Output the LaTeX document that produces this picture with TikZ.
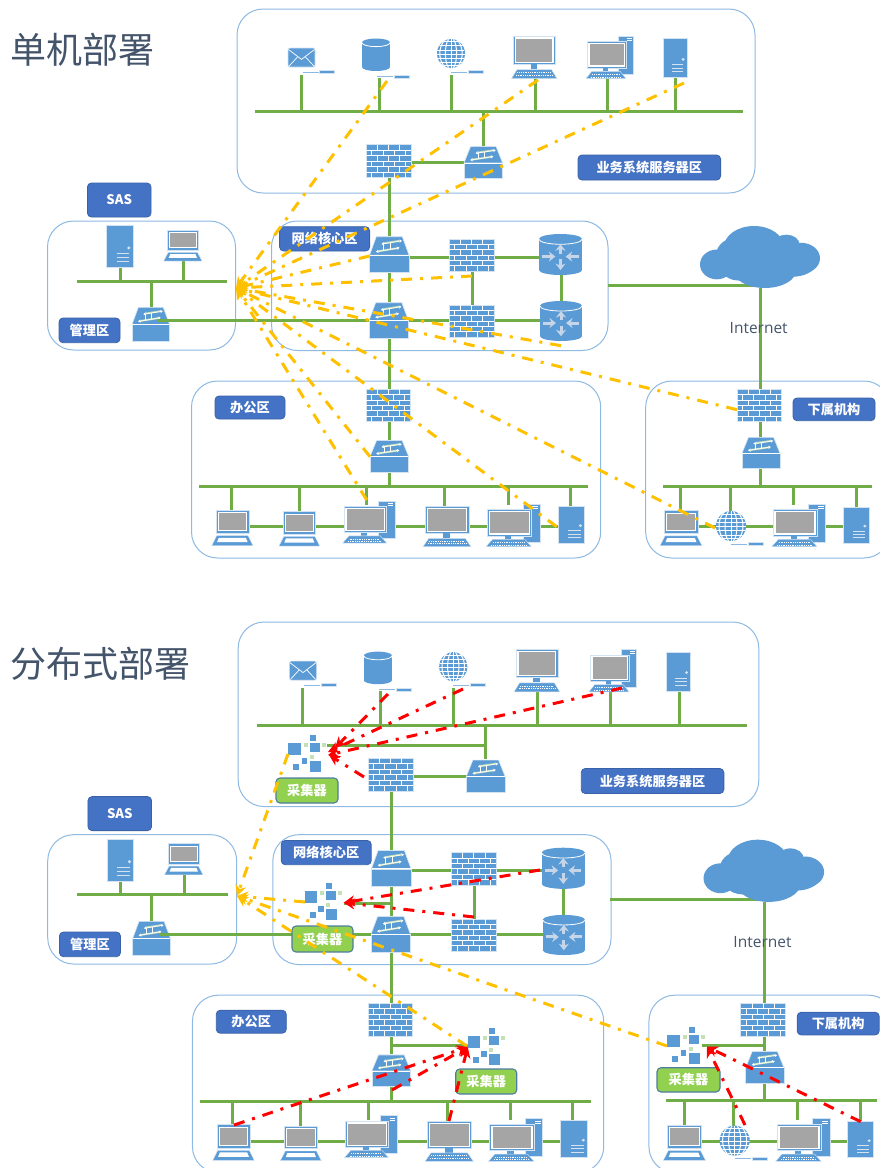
\documentclass[tikz,border=0pt]{standalone}
\usepackage{fontspec}
\setmainfont{Noto Sans CJK SC}
\newfontfamily\latinf{Open Sans}
\usetikzlibrary{arrows.meta}
\definecolor{icblue}{HTML}{5B9BD5}
\definecolor{iedge}{HTML}{D3E3F2}
\definecolor{linkg}{HTML}{70AD47}
\definecolor{panelb}{HTML}{8DB9E2}
\definecolor{labb}{HTML}{4472C4}
\definecolor{labe}{HTML}{3A62A8}
\definecolor{labg}{HTML}{92D050}
\definecolor{labge}{HTML}{4E7D9E}
\definecolor{titlec}{HTML}{44546A}
\definecolor{orangef}{HTML}{FFC000}
\definecolor{grey1}{HTML}{A5A5A5}
\definecolor{paleg}{HTML}{C5E0B4}
\definecolor{palear}{HTML}{C6D6E8}
\pgfdeclarelayer{links}
\pgfsetlayers{links,main}
\tikzset{
 iconbox/.style={rectangle,inner sep=0pt,outer sep=0pt,draw=none},
 ic/.style={fill=icblue,draw=iedge,line width=.6pt},
 link/.style={draw=linkg,line width=3pt},
 panel/.style={draw=panelb,line width=1pt,rounded corners=26pt},
 brick/.style={draw=white,line width=.75pt},
 lab/.style={rectangle,rounded corners=4pt,fill=labb,draw=labe,line width=.8pt,text=white,inner sep=0pt,font=\fontsize{13.2}{15}\selectfont\bfseries},
 labgreen/.style={lab,fill=labg,draw=labge,line width=1.1pt},
 flowo/.style={draw=orangef,line width=3pt,dash pattern=on 11pt off 8pt on 3pt off 8pt,-{Stealth[length=11pt,width=11pt]}},
 flowr/.style={draw=red,line width=3pt,dash pattern=on 11pt off 8pt on 3pt off 8pt,-{Stealth[length=11pt,width=11pt]}},
 title/.style={anchor=west,inner sep=0pt,text=titlec,font=\fontsize{36}{40}\selectfont},
 inet/.style={inner sep=0pt,text=titlec,font=\latinf\fontsize{15.5}{17}\selectfont},
 swarrow/.style={draw=white,line width=.7pt,{Stealth[length=2.6pt,width=3.2pt]}-{Stealth[length=2.6pt,width=3.2pt]}},
 swglow/.style={draw=paleg,line width=1.8pt},
}
\newcommand{\mkicon}[6]{%
 \pgfmathsetmacro\myW{#5-(#3)}\pgfmathsetmacro\myH{#6-(#4)}%
 \pgfmathsetmacro\myCx{(#3+#5)/2}\pgfmathsetmacro\myCy{(#4+#6)/2}%
 \node[iconbox,minimum width=\myW pt,minimum height=\myH pt] (#2) at (\myCx,\myCy) {};
 \begin{scope}[shift={(#3,#4)},x=\myW pt,y=-\myH pt]#1\end{scope}}
\newcommand{\shapefw}{%
 \path[ic] (0,0) rectangle (1,1);
 \foreach \r in {1,...,5}{\draw[brick] (0,\r/6) -- (1,\r/6);}
 \foreach \r in {0,2,4}{\foreach \c in {.25,.5,.75}{\draw[brick] (\c,\r/6) -- (\c,\r/6+1/6);}}
 \foreach \r in {1,3,5}{\foreach \c in {.125,.375,.625,.875}{\draw[brick] (\c,\r/6) -- (\c,\r/6+1/6);}}}
\newcommand{\shapesw}{%
 \path[ic] (0,.52) -- (.17,.02) -- (.83,.02) -- (1,.52) -- cycle;
 \path[ic] (0,.52) rectangle (1,1);
 \draw[white,line width=.9pt] (.01,.52) -- (.99,.52);
 \draw[swglow] (.36,.2) -- (.76,.13);
 \draw[swglow] (.2,.42) -- (.72,.33);
 \draw[swarrow] (.3,.22) -- (.82,.13);
 \draw[swarrow] (.16,.43) -- (.76,.32);
 \draw[draw=white,line width=.7pt] (.52,.18) -- (.52,.36);
 \draw[draw=white,line width=.7pt] (.36,.2) -- (.36,.4);}
\newcommand{\cylbody}{%
 \fill[icblue] (0,.12) rectangle (1,.88);
 \fill[icblue] (.5,.12) ellipse [x radius=.5,y radius=.12];
 \fill[icblue] (.5,.88) ellipse [x radius=.5,y radius=.12];
 \draw[white,line width=.8pt] (0,.13) arc [start angle=180,end angle=0,x radius=.5,y radius=.12];}
\newcommand{\shaperouter}{%
 \cylbody
 \draw[palear,line width=3pt,-{Stealth[length=6.5pt,width=10pt]}] (.5,.48) -- (.5,.25);
 \draw[palear,line width=3pt,-{Stealth[length=6.5pt,width=10pt]}] (.5,.62) -- (.5,.88);
 \draw[palear,line width=3pt,-{Stealth[length=6.5pt,width=10pt]}] (.08,.55) -- (.38,.55);
 \draw[palear,line width=3pt,-{Stealth[length=6.5pt,width=10pt]}] (.92,.55) -- (.62,.55);}
\newcommand{\shapemail}{%
 \path[ic,rounded corners=2pt] (0,0) rectangle (1,1);
 \draw[white,line width=.7pt] (.02,.08) -- (.5,.6) -- (.98,.08);
 \draw[white,line width=.7pt] (.04,.95) -- (.36,.46);
 \draw[white,line width=.7pt] (.96,.95) -- (.64,.46);}
\newcommand{\shapeglobe}{%
 \fill[icblue] (.5,.5) ellipse [x radius=.5,y radius=.5];
 \begin{scope}
 \clip (.5,.5) ellipse [x radius=.5,y radius=.5];
 \foreach \v in {.1,.24,.38,.52,.66,.8,.92}{\draw[white,line width=1pt] (0,\v) -- (1,\v);}
 \draw[white,line width=1pt] (.5,0) -- (.5,1);
 \draw[white,line width=1pt] (.5,.5) ellipse [x radius=.2,y radius=.55];
 \draw[white,line width=1pt] (.5,.5) ellipse [x radius=.4,y radius=.55];
 \end{scope}}
\newcommand{\shapeserver}{%
 \path[ic] (0,0) rectangle (1,1);
 \fill[iedge] (.84,.53) ellipse [x radius=.065,y radius=.04];
 \foreach \v in {.67,.76,.85}{\draw[iedge,line width=.9pt] (.38,\v) -- (.85,\v);}}
\newcommand{\kbd}[4]{% top y, left, right, (unit coords)
 \path[fill=icblue,draw=iedge,line width=.4pt] (#2+.12,#1) -- (#3-.12,#1) -- (#3,1) -- (#2,1) -- cycle;
 \draw[white,line width=.6pt,dash pattern=on 1pt off .8pt] (#2+.13,#1+.07) -- (#3-.13,#1+.07);
 \draw[white,line width=.6pt,dash pattern=on 1pt off .8pt] (#2+.1,#1+.13) -- (#3-.1,#1+.13);
 #4}
\newcommand{\shapemon}{%
 \path[ic] (.04,0) rectangle (.96,.667);
 \fill[white] (.075,.035) rectangle (.925,.63);
 \fill[grey1] (.1,.06) rectangle (.9,.605);
 \fill[icblue] (.42,.667) rectangle (.57,.78);
 \kbd{.79}{0}{1}{}}
\newcommand{\shapedesk}{%
 \path[ic] (.685,0) rectangle (1,.89);
 \draw[white,line width=.7pt] (.86,.06) -- (.96,.06);
 \draw[white,line width=.7pt] (.86,.11) -- (.96,.11);
 \path[ic] (.025,.134) rectangle (.84,.75);
 \fill[white] (.05,.165) rectangle (.815,.72);
 \fill[grey1] (.075,.195) rectangle (.79,.69);
 \fill[icblue] (.35,.75) rectangle (.47,.83);
 \kbd{.83}{0}{.84}{}}
\newcommand{\shapelap}{%
 \path[ic] (.104,0) rectangle (.904,.654);
 \fill[white] (.145,.06) rectangle (.86,.59);
 \fill[grey1] (.17,.09) rectangle (.835,.56);
 \path[fill=icblue,draw=iedge,line width=.4pt] (.12,.72) -- (.88,.72) -- (1,1) -- (0,1) -- cycle;
 \fill[white] (.17,.78) -- (.83,.78) -- (.87,.9) -- (.13,.9) -- cycle;}
\newcommand{\shapecol}{%
 \fill[icblue] (0,.21) rectangle (.33,.55);
 \fill[icblue] (.58,0) rectangle (.73,.155);
 \fill[icblue] (.57,.21) rectangle (.84,.47);
 \fill[icblue] (.36,.61) rectangle (.51,.77);
 \fill[icblue] (.14,.79) rectangle (.3,.95);
 \fill[icblue] (.57,.7) rectangle (.86,1);
 \fill[paleg] (.41,.21) rectangle (.52,.32);
 \fill[paleg] (.89,.21) rectangle (1,.32);
 \fill[paleg] (.57,.53) rectangle (.68,.64);}
\newcommand{\shapecloud}{%
 \fill[icblue] (.14,.62) ellipse [x radius=.14,y radius=.24];
 \fill[icblue] (.28,.5) ellipse [x radius=.15,y radius=.3];
 \fill[icblue] (.45,.34) ellipse [x radius=.25,y radius=.34];
 \fill[icblue] (.72,.3) ellipse [x radius=.11,y radius=.16];
 \fill[icblue] (.84,.52) ellipse [x radius=.16,y radius=.25];
 \fill[icblue] (.54,.72) ellipse [x radius=.26,y radius=.28];
 \fill[icblue] (.33,.72) ellipse [x radius=.14,y radius=.16];
 \fill[icblue] (.62,.52) ellipse [x radius=.3,y radius=.3];
 \fill[icblue] (.76,.62) ellipse [x radius=.2,y radius=.2];}
\newcommand{\cable}[2]{%
 \draw[icblue!70,line width=.7pt] (#1,#2) -- ++(16,0);
 \path[fill=icblue,draw=iedge,line width=.5pt] (#1+17,#2-1.5) rectangle (#1+32,#2+1.5);}
\newcommand{\panelbox}[5]{\mkicon{\draw[panel] (0,0) rectangle (1,1);}{#1}{#2}{#3}{#4}{#5}}
\newcommand{\hbus}[4]{%
 \coordinate (#1) at (#2,#4);\coordinate (#1R) at (#3,#4);
 \draw[link] (#1) -- (#1R);}
\newcommand{\drop}[4]{% name, x, y of free end, bus
 \coordinate (#1) at (#2,#3);\draw[link] (#1) -- (#1 |- #4);}
\newcommand{\lab}[7][lab]{% style,name,text,x0,y0,x1,y1
 \pgfmathsetmacro\myW{#6-(#4)}\pgfmathsetmacro\myH{#7-(#5)}%
 \pgfmathsetmacro\myCx{(#4+#6)/2}\pgfmathsetmacro\myCy{(#5+#7)/2}%
 \node[#1,minimum width=\myW pt,minimum height=\myH pt] (#2) at (\myCx,\myCy) {#3};}
\newcommand{\hlink}[3]{\draw[link] (#1 |- #3) -- (#2 |- #3);}
\newcommand{\flow}[4]{\coordinate (src) at (#3,#4);\draw[#1] (src) -- (#2);}
\newcommand{\network}[1]{%
 \def\P{#1}%
 \begin{pgfonlayer}{links}
 \panelbox{\P panA}{237}{9}{755}{193}
 \panelbox{\P panB}{47.5}{221}{235.5}{350}
 \panelbox{\P panC}{271.5}{221}{608}{350.5}
 \panelbox{\P panD}{191.5}{381}{600.7}{558}
 \panelbox{\P panE}{645.7}{381}{890}{558}
 \end{pgfonlayer}
 % business zone
 \mkicon{\shapemail}{\P mail}{288}{48}{315}{67}
 \cable{302.6}{72}
 \mkicon{\cylbody}{\P db}{362}{38.5}{390}{71}
 \cable{377}{76.3}
 \mkicon{\shapeglobe}{\P glob}{437}{39}{465}{68}
 \cable{451}{72}
 \mkicon{\shapemon}{\P mon}{511.5}{36}{557}{78.6}
 \mkicon{\shapedesk}{\P desk}{586}{36}{633.5}{78.6}
 \mkicon{\shapeserver}{\P srv}{663}{38.7}{687}{77.7}
 \mkicon{\shapefw}{\P fw}{366}{144.7}{411}{177.7}
 \mkicon{\shapesw}{\P sw}{464}{146}{502.6}{178.7}
 % management zone
 \mkicon{\shapeserver}{\P msrv}{106.7}{225.7}{133}{267.7}
 \mkicon{\shapelap}{\P mlap}{163.7}{230}{202}{261}
 \mkicon{\shapesw}{\P msw}{132}{306.7}{169.6}{341}
 % core zone
 \mkicon{\shapesw}{\P csa}{369.6}{236}{409}{272.7}
 \mkicon{\shapesw}{\P csb}{369}{302}{408.5}{338}
 \mkicon{\shapefw}{\P cfa}{449}{239}{494}{271}
 \mkicon{\shapefw}{\P cfb}{449}{305}{494}{337}
 \mkicon{\shaperouter}{\P cra}{539}{234}{582}{275}
 \mkicon{\shaperouter}{\P crb}{540}{301}{582}{341}
 \mkicon{\shapecloud}{\P cloud}{700}{226}{820}{288}
 % office zone
 \mkicon{\shapefw}{\P ofw}{366}{389}{410}{421.7}
 \mkicon{\shapesw}{\P osw}{370}{440}{408.7}{472}
 \mkicon{\shapelap}{\P ola}{211.7}{510}{253}{545.7}
 \mkicon{\shapelap}{\P olb}{279}{511.7}{319.7}{546}
 \mkicon{\shapedesk}{\P oda}{342.7}{501}{395}{543}
 \mkicon{\shapemon}{\P omo}{423}{506.7}{471}{546.7}
 \mkicon{\shapedesk}{\P odb}{486}{504}{540}{546.7}
 \mkicon{\shapeserver}{\P osr}{558}{506}{584.7}{543}
 % branch zone
 \mkicon{\shapefw}{\P bfw}{737}{389}{781.7}{421.7}
 \mkicon{\shapesw}{\P bsw}{742}{436.7}{780}{468.7}
 \mkicon{\shapelap}{\P bla}{660}{510.7}{702}{545.7}
 \mkicon{\shapeglobe}{\P bgl}{716}{511}{746}{541}
 \cable{731}{544}
 \mkicon{\shapedesk}{\P bde}{771.7}{504}{825.7}{546.7}
 \mkicon{\shapeserver}{\P bsr}{843}{507}{869}{543}
 \begin{pgfonlayer}{links}
 \hbus{\P busa}{255.4}{743}{111.7}
 \drop{\P da}{301}{75}{\P busa}
 \drop{\P db2}{379}{77.7}{\P busa}
 \drop{\P dc}{451}{74.7}{\P busa}
 \drop{\P dd}{535}{78}{\P busa}
 \drop{\P de}{607}{78}{\P busa}
 \drop{\P df}{675.7}{76}{\P busa}
 \coordinate (\P cola) at (483.3,146);
 \draw[link] (\P cola |- \P busa) -- (\P cola);
 \coordinate (\P rowa) at (0,162.7);
 \hlink{\P fw}{\P sw}{\P rowa}
 \coordinate (\P colb) at (389,0);
 \draw[link] (\P colb |- \P fw.south) -- (\P colb |- \P csa.north);
 \draw[link] (\P colb |- \P csa.south) -- (\P colb |- \P csb.north);
 \draw[link] (\P colb |- \P csb.south) -- (\P colb |- \P ofw.north);
 \draw[link] (\P colb |- \P ofw.south) -- (\P colb |- \P osw.north);
 \hbus{\P busb}{77}{227}{281}
 \drop{\P dg}{120}{265}{\P busb}
 \drop{\P dh}{183.3}{261}{\P busb}
 \coordinate (\P dk) at (151,307);
 \draw[link] (\P dk |- \P busb) -- (\P dk);
 \coordinate (\P rowb) at (0,257);
 \coordinate (\P rowc) at (0,320);
 \hlink{\P csa}{\P cfa}{\P rowb}
 \hlink{\P cfa}{\P cra}{\P rowb}
 \hlink{\P csb}{\P cfb}{\P rowc}
 \hlink{\P cfb}{\P crb}{\P rowc}
 \coordinate (\P colc) at (472,0);
 \coordinate (\P cold) at (561,0);
 \draw[link] (\P colc |- \P cfa.south) -- (\P colc |- \P cfb.north);
 \draw[link] (\P cold |- \P cra.south) -- (\P cold |- \P crb.north);
 \coordinate (\P rowd) at (0,285.3);
 \draw[link] (\P panC.east |- \P rowd) -- (\P cloud.center |- \P rowd);
 \coordinate (\P cole) at (760.7,0);
 \draw[link] (\P cole |- \P cloud.south) -- (\P cole |- \P bfw.north);
 \draw[link] (\P cole |- \P bfw.south) -- (\P cole |- \P bsw.north);
 \hbus{\P busc}{199}{587.7}{486.7}
 \drop{\P dl}{231}{511}{\P busc}
 \drop{\P dm}{299}{512}{\P busc}
 \drop{\P dn}{366.7}{505}{\P busc}
 \drop{\P do}{444.7}{507}{\P busc}
 \drop{\P dp}{508}{505}{\P busc}
 \drop{\P dq}{570}{507}{\P busc}
 \draw[link] (\P colb |- \P osw.south) -- (\P colb |- \P busc);
 \coordinate (\P rowe) at (0,526.7);
 \draw[link] (\P ola |- \P rowe) -- (\P osr |- \P rowe);
 \hbus{\P busd}{663}{872}{486}
 \drop{\P dr}{680.7}{511}{\P busd}
 \drop{\P ds}{730}{511}{\P busd}
 \drop{\P dt}{793}{505}{\P busd}
 \drop{\P du}{856}{507}{\P busd}
 \draw[link] (\P cole |- \P bsw.south) -- (\P cole |- \P busd);
 \draw[link] (\P bla |- \P rowe) -- (\P bsr |- \P rowe);
 \end{pgfonlayer}
 \coordinate (\P mswp) at (158,320);
 \draw[link] (\P mswp) -- (\P mswp -| \P csb.west);
 \node[inet] (\P inet) at (758.7,327.7) {Internet};
 \lab{\P lsas}{SAS}{87.4}{183}{151}{217}
 \lab{\P lcore}{网络核心区}{279.6}{226.7}{369.6}{251}
 \lab{\P lmgmt}{管理区}{59}{318}{120}{342.7}
 \lab{\P loff}{办公区}{215}{396}{285}{419}
 \lab{\P lbr}{下属机构}{793}{398}{875}{420.7}
 \lab{\P lbiz}{业务系统服务器区}{578}{155}{720.6}{180}
}
\begin{document}
\begin{tikzpicture}[x=1pt,y=-1pt]
 \useasboundingbox (0,0) rectangle (880,1168);
 \clip (0,0) rectangle (880,1168);
 \node[title] (t1) at (10,50) {单机部署};
 \node[title] (t2) at (10,664) {分布式部署};
 \network{A}
 \begin{scope}[shift={(0,613)},xscale=1.005,yscale=1.003]
  \network{B}
 \end{scope}
 % first diagram: every probe reports to SAS
 \coordinate (tipa) at (236,288);
 \flow{flowo}{tipa}{387}{81}
 \flow{flowo}{tipa}{538}{80}
 \flow{flowo}{tipa}{684}{83}
 \flow{flowo}{tipa}{369.6}{256}
 \flow{flowo}{tipa}{472}{276}
 \flow{flowo}{tipa}{561}{345.7}
 \flow{flowo}{tipa}{737}{409.7}
 \flow{flowo}{tipa}{366.7}{500}
 \flow{flowo}{tipa}{370}{456.7}
 \flow{flowo}{tipa}{556.7}{526.7}
 \flow{flowo}{tipa}{715}{528}
 % second diagram: collectors
 \mkicon{\shapecol}{cola}{288}{735}{326}{772}
 \mkicon{\shapecol}{colb}{305}{883}{342}{920}
 \mkicon{\shapecol}{colc}{467.7}{1028}{505}{1065}
 \mkicon{\shapecol}{cold}{667}{1027}{705}{1064}
 \begin{pgfonlayer}{links}
  \coordinate (cra) at (326.7,745.7);
  \draw[link] (cra) -- (cra -| Bcola);
  \coordinate (crb) at (343.7,903);
  \draw[link] (crb) -- (crb -| Bcolb);
  \coordinate (crc) at (473,1045.7);
  \draw[link] (crc) -- (crc -| Bcolb);
  \coordinate (crd) at (701.7,1045.7);
  \draw[link] (crd) -- (crd -| Bcole);
 \end{pgfonlayer}
 \lab[labgreen]{lca}{采集器}{276}{778}{338}{803}
 \lab[labgreen]{lcb}{采集器}{292}{926}{353}{952}
 \lab[labgreen]{lcc}{采集器}{455.7}{1069}{516.7}{1094}
 \lab[labgreen]{lcd}{采集器}{657}{1067.7}{720}{1092}
 \coordinate (tipb) at (237,896);
 \flow{flowo}{tipb}{288}{754}
 \flow{flowo}{tipb}{305}{902}
 \flow{flowo}{tipb}{467}{1046}
 \flow{flowo}{tipb}{667}{1046}
 \coordinate (ra) at (335,748);
 \coordinate (rb) at (328,752);
 \coordinate (rc) at (328,755);
 \coordinate (rd) at (329,755);
 \flow{flowr}{ra}{388}{694}
 \flow{flowr}{rb}{463}{689}
 \flow{flowr}{rc}{622}{688}
 \flow{flowr}{rd}{364}{777}
 \coordinate (re) at (343.7,902.7);
 \flow{flowr}{re}{540}{870}
 \flow{flowr}{re}{474}{917}
 \coordinate (rf) at (467.7,1047);
 \flow{flowr}{rf}{234}{1125}
 \flow{flowr}{rf}{392}{1090}
 \flow{flowr}{rf}{449}{1121}
 \coordinate (rg) at (707,1046.7);
 \flow{flowr}{rg}{860.7}{1121.7}
 \flow{flowr}{rg}{745}{1125}
\end{tikzpicture}
\end{document}
